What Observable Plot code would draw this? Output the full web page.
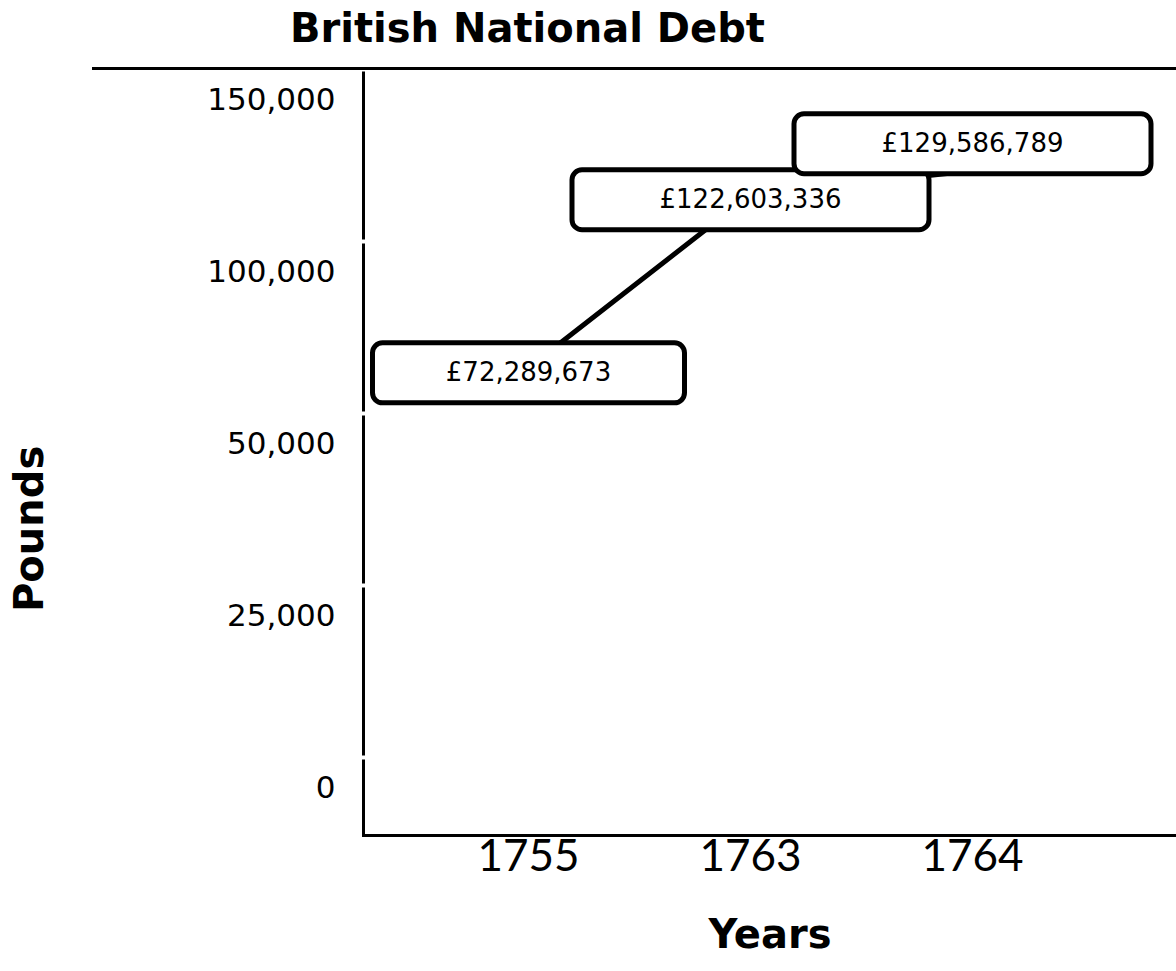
<!DOCTYPE html>
<html>
<head>
<meta charset="utf-8">
<script src="https://cdn.jsdelivr.net/npm/d3@7"></script>
<script src="https://cdn.jsdelivr.net/npm/@observablehq/plot@0.6"></script>
<style>
  html, body { margin: 0; padding: 0; background: #fff; }
  #title { height: 60px; line-height: 56px; padding-left: 290px; font-family: "DejaVu Sans", sans-serif; font-weight: bold; font-size: 40px; color: #000; white-space: nowrap; }
  #chart svg { display: block; }
</style>
</head>
<body>
<div id="title">British National Debt</div>
<div id="chart"></div>
<script>
const years = ["1755", "1763", "1764"];
const debtPounds = [72289673, 122603336, 129586789];
const yTicks = [0, 25000, 50000, 100000, 150000];

const data = years.map((year, i) => ({
  year,
  value: debtPounds[i] / 1000,
  label: "£" + d3.format(",")(debtPounds[i])
}));

function roundedBox(h, rad) {
  return {
    draw(ctx, size) {
      const w = Math.sqrt(size / Math.PI);
      const x0 = -w / 2, x1 = w / 2, y0 = -h / 2, y1 = h / 2;
      ctx.moveTo(x0 + rad, y0);
      ctx.lineTo(x1 - rad, y0);
      ctx.arcTo(x1, y0, x1, y0 + rad, rad);
      ctx.lineTo(x1, y1 - rad);
      ctx.arcTo(x1, y1, x1 - rad, y1, rad);
      ctx.lineTo(x0 + rad, y1);
      ctx.arcTo(x0, y1, x0, y1 - rad, rad);
      ctx.lineTo(x0, y0 + rad);
      ctx.arcTo(x0, y0, x0 + rad, y0, rad);
      ctx.closePath();
    }
  };
}
const box = roundedBox(60, 10);
const boxWidth = (d) => 45 * d.label.length - 183;

function labelMarks(filter, dy) {
  return [
    Plot.dot(data, {x: "year", y: "value", filter, dy, r: boxWidth, symbol: box,
      fill: "white", stroke: "black", strokeWidth: 5}),
    Plot.text(data, {x: "year", y: "value", filter, dy, text: "label",
      fontSize: 26, fontFamily: "DejaVu Sans", fill: "black"})
  ];
}

const W = 1176, H = 911, ML = 363;

const chart = Plot.plot({
  width: W,
  height: H,
  marginLeft: ML,
  marginRight: 0,
  marginTop: 8,
  marginBottom: 136,
  style: {background: "white", color: "black"},
  x: {type: "point", domain: years, range: [528, 972], padding: 0},
  y: {type: "linear", domain: yTicks, range: [728, 556, 384, 212, 40]},
  r: {type: "identity"},
  marks: [
    Plot.frame({anchor: "left", stroke: "black", strokeWidth: 3}),
    Plot.ruleY(yTicks, {y: (d) => d, dy: -31, stroke: "white", strokeWidth: 4,
      insetLeft: -6, insetRight: W - ML - 6}),
    Plot.frame({anchor: "top", stroke: "black", strokeWidth: 3, insetLeft: -270}),
    Plot.frame({anchor: "bottom", stroke: "black", strokeWidth: 3}),
    Plot.axisY(yTicks, {tickSize: 0, tickPadding: 28, tickFormat: d3.format(","),
      fontSize: 31, fontFamily: "DejaVu Sans", label: null, fill: "black"}),
    Plot.axisX({tickSize: 0, tickPadding: 4, fontSize: 44, fontFamily: "Lato",
      label: null, fill: "black"}),
    Plot.text(["Years"], {text: (d) => d, frameAnchor: "bottom", dy: 112,
      fontSize: 40, fontWeight: "bold", fontFamily: "DejaVu Sans", fill: "black"}),
    Plot.text(["Pounds"], {text: (d) => d, frameAnchor: "left", rotate: -90,
      dx: -333, dy: 160, fontSize: 40, fontWeight: "bold", fontFamily: "DejaVu Sans", fill: "black"}),
    Plot.line(data, {x: "year", y: "value", stroke: "black", strokeWidth: 5}),
    ...labelMarks((d, i) => i < 2, 5),
    ...labelMarks((d, i) => i === 2, -27)
  ]
});

document.getElementById("chart").appendChild(chart);
</script>
</body>
</html>
